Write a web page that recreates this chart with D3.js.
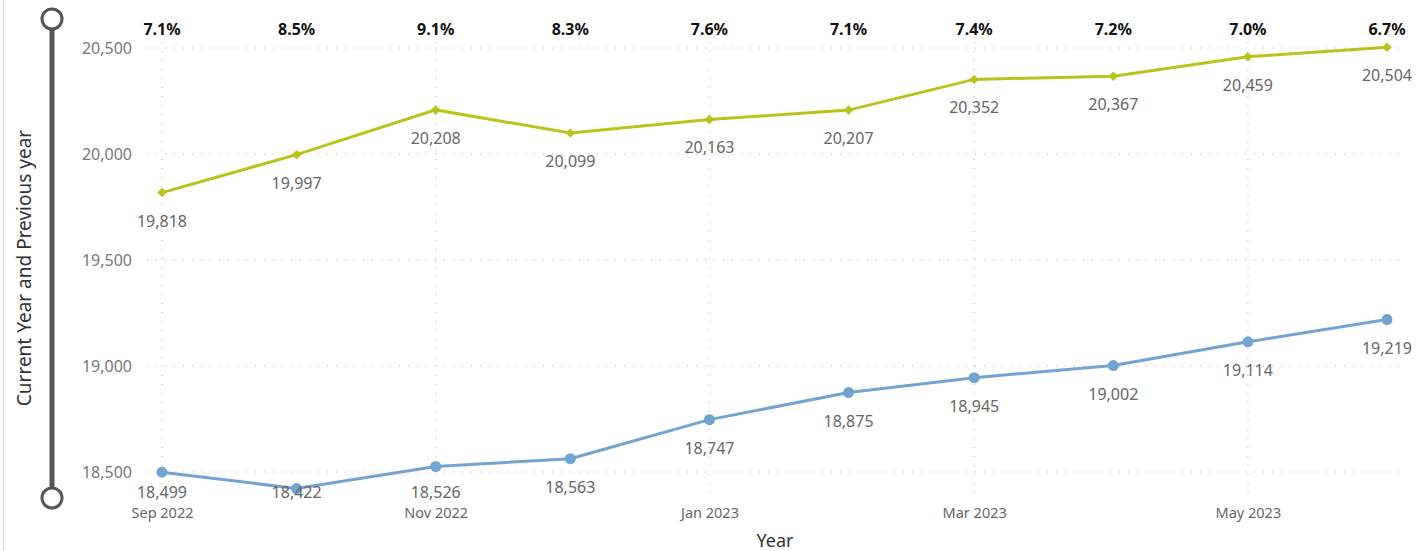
<!DOCTYPE html>
<html><head><meta charset="utf-8">
<script src="https://cdn.jsdelivr.net/npm/d3@7"></script>
<style>
body{margin:0;background:#fff;}
text{font-family:"Segoe UI","Noto Sans","Open Sans",sans-serif;}
</style></head>
<body>
<svg id="c" width="1418" height="551"></svg>
<script>
const months = ["2022-09","2022-10","2022-11","2022-12","2023-01","2023-02","2023-03","2023-04","2023-05","2023-06"];
const currentYear = [19818,19997,20208,20099,20163,20207,20352,20367,20459,20504];
const previousYear = [18499,18422,18526,18563,18747,18875,18945,19002,19114,19219];
const pctLabels = ["7.1%","8.5%","9.1%","8.3%","7.6%","7.1%","7.4%","7.2%","7.0%","6.7%"];
const yTicks = [18500,19000,19500,20000,20500];
const xTickMonths = ["2022-09","2022-11","2023-01","2023-03","2023-05"];

const parse = d3.utcParse("%Y-%m");
const dates = months.map(parse);
const svg = d3.select("#c");

const x = d3.scaleUtc().domain([dates[0], dates[dates.length-1]]).range([162,1387]);
const y = d3.scaleLinear().domain([18500,20500]).range([472,48]);

// left border
svg.append("line").attr("x1",3.5).attr("x2",3.5).attr("y1",0).attr("y2",551).attr("stroke","#d4d6ea").attr("stroke-width",1);

// slider decoration
svg.append("line").attr("x1",52).attr("x2",52).attr("y1",29).attr("y2",488).attr("stroke","#555").attr("stroke-width",5);
[19,498].forEach(cy=>svg.append("circle").attr("cx",52).attr("cy",cy).attr("r",10).attr("fill","#fff").attr("stroke","#555").attr("stroke-width",3));

// gridlines
const grid = svg.append("g");
yTicks.forEach(t=>grid.append("line").attr("x1",147).attr("x2",1402).attr("y1",y(t)).attr("y2",y(t))
  .attr("stroke","#c8c8c8").attr("stroke-dasharray","1,8").attr("stroke-width",1.5));
xTickMonths.map(parse).forEach(d=>grid.append("line").attr("x1",x(d)).attr("x2",x(d)).attr("y1",42).attr("y2",500)
  .attr("stroke","#c8c8c8").attr("stroke-dasharray","1,8").attr("stroke-width",1.5));

// axes
const yAxis = d3.axisLeft(y).tickValues(yTicks).tickFormat(d3.format(",")).tickSize(0).tickPadding(0);
const ya = svg.append("g").attr("transform","translate(132,0)").call(yAxis);
ya.select(".domain").remove();
ya.selectAll("text").attr("font-size",16).attr("fill","#777").attr("font-family","'Segoe UI','Noto Sans',sans-serif");

const xAxis = d3.axisBottom(x).tickValues(xTickMonths.map(parse)).tickFormat(d3.utcFormat("%b %Y")).tickSize(0).tickPadding(0);
const xa = svg.append("g").attr("transform","translate(0,508)").call(xAxis);
xa.select(".domain").remove();
xa.selectAll("text").attr("font-size",14.5).attr("fill","#666").attr("font-family","'Segoe UI','Noto Sans',sans-serif");

// axis titles
svg.append("text").attr("transform","translate(31,268) rotate(-90)").attr("text-anchor","middle")
  .attr("font-size",19).attr("fill","#333").text("Current Year and Previous year");
svg.append("text").attr("x",775).attr("y",547).attr("text-anchor","middle").attr("font-size",18).attr("fill","#333").text("Year");

const line = d3.line().x((d,i)=>x(dates[i])).y(d=>y(d));
const green = "#b8c41c", blue = "#73a3d0";

svg.append("path").datum(currentYear).attr("d",line).attr("fill","none").attr("stroke",green).attr("stroke-width",3);
svg.append("path").datum(previousYear).attr("d",line).attr("fill","none").attr("stroke",blue).attr("stroke-width",3);

svg.selectAll(".dia").data(currentYear).join("path").attr("class","dia")
  .attr("d",d3.symbol().type(d3.symbolSquare).size(45))
  .attr("transform",(d,i)=>`translate(${x(dates[i])},${y(d)}) rotate(45)`).attr("fill",green);
svg.selectAll(".dot").data(previousYear).join("circle").attr("class","dot")
  .attr("cx",(d,i)=>x(dates[i])).attr("cy",d=>y(d)).attr("r",5.5).attr("fill",blue);

const fmt = d3.format(",");
svg.selectAll(".gl").data(currentYear).join("text").attr("class","gl")
  .attr("x",(d,i)=>x(dates[i])).attr("y",d=>y(d)+34).attr("text-anchor","middle")
  .attr("font-size",16).attr("fill","#666").text(d=>fmt(d));
svg.selectAll(".bl").data(previousYear).join("text").attr("class","bl")
  .attr("x",(d,i)=>x(dates[i])).attr("y",d=>Math.min(y(d)+34,498)).attr("text-anchor","middle")
  .attr("font-size",16).attr("fill","#666").text(d=>fmt(d));

svg.selectAll(".pct").data(pctLabels).join("text").attr("class","pct")
  .attr("x",(d,i)=>x(dates[i])).attr("y",35).attr("text-anchor","middle")
  .attr("font-size",16).attr("font-weight","bold").attr("fill","#111").text(d=>d);
</script>
</body></html>
